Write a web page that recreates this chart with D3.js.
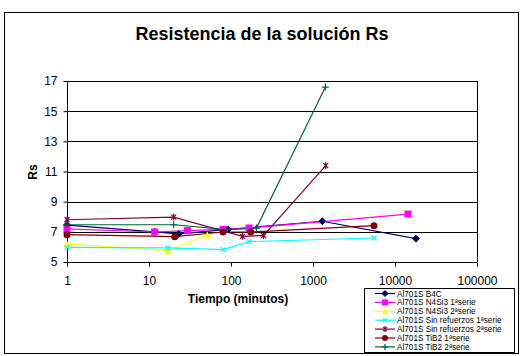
<!DOCTYPE html>
<html><head><meta charset="utf-8">
<script src="https://cdn.jsdelivr.net/npm/d3@7"></script>
<style>
html,body{margin:0;padding:0;background:#fff;}
svg{display:block;font-family:"Liberation Sans",Arial,sans-serif;}
</style></head>
<body><svg id="c" width="523" height="356"></svg>
<script>
// ---- data ----
const title = "Resistencia de la solución Rs";
const xTitle = "Tiempo (minutos)";
const yTitle = "Rs";
const xTicks = [1, 10, 100, 1000, 10000, 100000];
const xTickLabels = ["1", "10", "100", "1000", "10000", "100000"];
const yTicks = [5, 7, 9, 11, 13, 15, 17];

const seriesNames = ["Al701S B4C", "Al701S N4Si3 1ªserie", "Al701S N4Si3 2ªserie",
  "Al701S Sin refuerzos 1ªserie", "Al701S Sin refuerzos 2ªserie",
  "Al701S TiB2 1ªserie", "Al701S TiB2 2ªserie"];

const b4cTime = [1, 11.7, 23, 92, 1300, 18000];
const b4cRs   = [7.45, 7.0, 6.86, 7.16, 7.7, 6.55];
const n4si1Time = [1, 11.7, 29.4, 80, 166, 14400];
const n4si1Rs   = [7.19, 6.99, 7.08, 7.16, 7.25, 8.18];
const n4si2Time = [1, 17, 51.5];
const n4si2Rs   = [6.19, 5.75, 6.81];
const sin1Time = [1, 17, 80, 166, 5550];
const sin1Rs   = [5.97, 5.93, 5.82, 6.35, 6.59];
const sin2Time = [1, 20, 138, 250, 1430];
const sin2Rs   = [7.8, 7.98, 6.70, 6.76, 11.39];
const tib1Time = [1, 20.6, 80, 174, 5540];
const tib1Rs   = [6.81, 6.68, 6.99, 6.99, 7.41];
const tib2Time = [1, 20, 90, 204, 1416];
const tib2Rs   = [7.47, 7.47, 7.15, 7.25, 16.6];

// ---- styles ----
const seriesTimes = [b4cTime, n4si1Time, n4si2Time, sin1Time, sin2Time, tib1Time, tib2Time];
const seriesRs = [b4cRs, n4si1Rs, n4si2Rs, sin1Rs, sin2Rs, tib1Rs, tib2Rs];
const colors = ["#000066", "#ff00ff", "#ffff00", "#00ffff", "#800040", "#800000", "#006633"];
const markers = ["diamond", "square", "triangle", "x", "star", "circle", "plus"];

const svg = d3.select("#c");
// outer frame
svg.append("rect").attr("x", 4.5).attr("y", 12.5).attr("width", 514).attr("height", 341)
  .attr("fill", "#fff").attr("stroke", "#000").attr("stroke-width", 1);

const L = 67, R = 477, T = 81, B = 262;
const x = d3.scaleLog().domain([1, 100000]).range([L, R]);
const y = d3.scaleLinear().domain([5, 17]).range([B, T]);

// gridlines
svg.append("g").selectAll("line").data(yTicks).join("line")
  .attr("x1", L).attr("x2", R)
  .attr("y1", d => Math.round(y(d)) + 0.5).attr("y2", d => Math.round(y(d)) + 0.5)
  .attr("stroke", "#000").attr("stroke-width", 1);
// plot border right
svg.append("line").attr("x1", R + 0.5).attr("x2", R + 0.5).attr("y1", T).attr("y2", B)
  .attr("stroke", "#000");

// axes
const yAxis = d3.axisLeft(y).tickValues(yTicks).tickSize(4).tickPadding(6).tickFormat(d3.format("d"));
const gy = svg.append("g").attr("transform", `translate(${L + 0.5},0)`).call(yAxis);
gy.selectAll("text").attr("font-size", 12).attr("fill", "#000").attr("font-family", "Liberation Sans, Arial, sans-serif");
gy.selectAll("line,path").attr("stroke", "#000");
gy.select(".domain").attr("d", `M0,${T}V${B + 0.5}`);

const xAxis = d3.axisBottom(x).tickValues(xTicks).tickSize(4).tickPadding(10)
  .tickFormat((d, i) => xTickLabels[i]);
const gx = svg.append("g").attr("transform", `translate(0,${B + 0.5})`).call(xAxis);
gx.selectAll("text").attr("font-size", 12).attr("fill", "#000").attr("font-family", "Liberation Sans, Arial, sans-serif");
gx.selectAll("line,path").attr("stroke", "#000");
gx.select(".domain").attr("d", `M${L},0H${R}`);

// titles
svg.append("text").attr("x", 262).attr("y", 40).attr("text-anchor", "middle")
  .attr("font-size", 18).attr("font-weight", "bold").text(title);
svg.append("text").attr("x", 238).attr("y", 303).attr("text-anchor", "middle")
  .attr("font-size", 12).attr("font-weight", "bold").text(xTitle);
svg.append("text").attr("transform", "translate(37,172) rotate(-90)").attr("text-anchor", "middle")
  .attr("font-size", 12).attr("font-weight", "bold").text(yTitle);

function marker(g, type, color, s) {
  const h = s / 2;
  if (type === "diamond") g.append("path").attr("d", `M0,${-h}L${h},0L0,${h}L${-h},0Z`).attr("fill", color).attr("stroke", color);
  else if (type === "square") g.append("rect").attr("x", -h).attr("y", -h).attr("width", s).attr("height", s).attr("fill", color);
  else if (type === "triangle") g.append("path").attr("d", `M0,${-h}L${h},${h}L${-h},${h}Z`).attr("fill", color);
  else if (type === "circle") g.append("circle").attr("r", h).attr("fill", color);
  else if (type === "x") g.append("path").attr("d", `M${-h+1},${-h+1}L${h-1},${h-1}M${-h+1},${h-1}L${h-1},${-h+1}`).attr("stroke", color).attr("stroke-width", 1.2);
  else if (type === "star") g.append("path").attr("d", `M${-h+1},${-h+1}L${h-1},${h-1}M${-h+1},${h-1}L${h-1},${-h+1}M0,${-h}V${h}`).attr("stroke", color).attr("stroke-width", 1.2);
  else if (type === "plus") g.append("path").attr("d", `M${-h},0H${h}M0,${-h}V${h}`).attr("stroke", color).attr("stroke-width", 1.2);
}

const line = d3.line().x(d => x(d[0])).y(d => y(d[1]));
const plot = svg.append("g");
seriesNames.forEach((name, i) => {
  const pts = seriesTimes[i].map((t, j) => [t, seriesRs[i][j]]);
  plot.append("path").datum(pts).attr("d", line).attr("fill", "none")
    .attr("stroke", colors[i]).attr("stroke-width", 1.2);
});
seriesNames.forEach((name, i) => {
  const pts = seriesTimes[i].map((t, j) => [t, seriesRs[i][j]]);
  pts.forEach(p => {
    const g = plot.append("g").attr("transform", `translate(${x(p[0])},${y(p[1])})`);
    marker(g, markers[i], colors[i], 7);
  });
});

// legend
const lg = svg.append("g");
lg.append("rect").attr("x", 364.5).attr("y", 288.5).attr("width", 150).attr("height", 64)
  .attr("fill", "#fff").attr("stroke", "#000");
seriesNames.forEach((name, i) => {
  const yy = 293.5 + i * 8.9;
  lg.append("line").attr("x1", 375).attr("x2", 395).attr("y1", yy).attr("y2", yy)
    .attr("stroke", colors[i]).attr("stroke-width", 1.2);
  const g = lg.append("g").attr("transform", `translate(385,${yy})`);
  marker(g, markers[i], colors[i], 6);
  lg.append("text").attr("x", 397).attr("y", yy + 3).attr("font-size", 8.2).text(name);
});
</script></body></html>
